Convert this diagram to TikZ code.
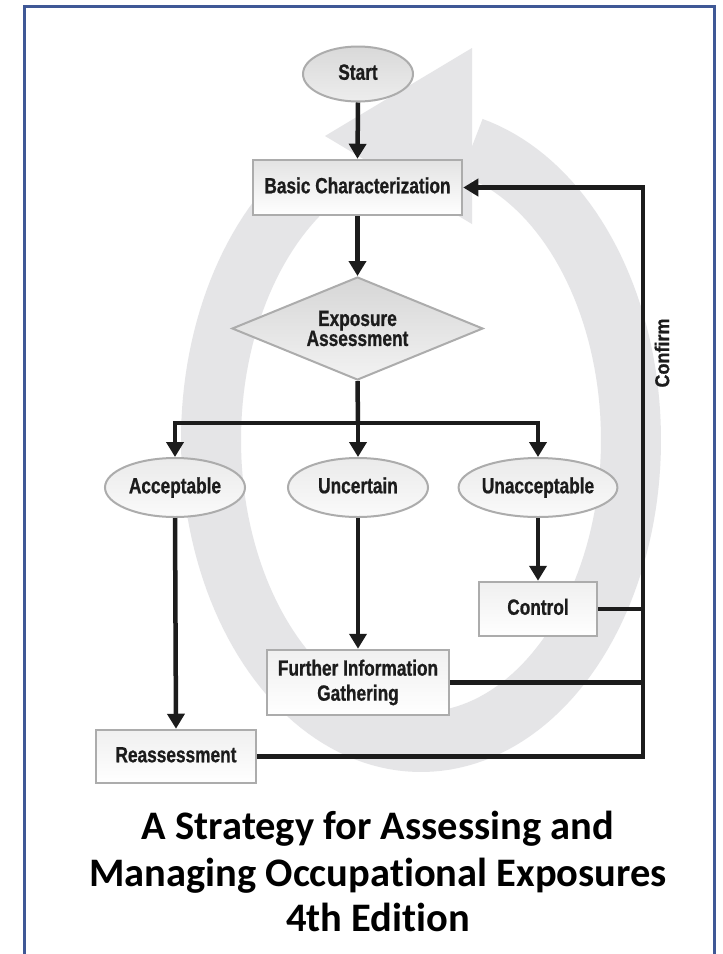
\documentclass[tikz,border=0pt]{standalone}
\usepackage{fontspec}
\usetikzlibrary{shapes.geometric,arrows.meta}
\newfontfamily\condfont{Liberation Sans Bold}[FakeStretch=0.785, FakeBold=0.8]
\newfontfamily\confont{Liberation Sans Bold}[FakeStretch=0.9, FakeBold=0.6]
\newfontfamily\titlefont{Carlito}[Ligatures=NoCommon]
\definecolor{ringgray}{RGB}{229,229,231}
\definecolor{frameblue}{RGB}{63,88,150}
\definecolor{edgegray}{RGB}{172,172,172}
\definecolor{ink}{RGB}{28,28,28}
\begin{document}
\begin{tikzpicture}[x=1pt,y=-1pt,
  lbl/.style={font={\condfont\fontsize{22}{20}\selectfont}, text=ink, align=center, inner sep=0pt},
  oneline/.style={text height=16pt, text depth=4.5pt},
  box/.style={lbl, rectangle, draw=edgegray, line width=2.5pt, top color=gray!12, bottom color=white},
  oval/.style={lbl, oneline, ellipse, draw=edgegray, line width=2pt, top color=gray!16, bottom color=gray!4},
  startoval/.style={lbl, oneline, ellipse, draw=edgegray, line width=2pt, top color=gray!30, bottom color=gray!14},
  dia/.style={lbl, diamond, aspect=2.44, draw=edgegray, line width=2pt, top color=gray!32, bottom color=gray!10},
  conn/.style={draw=ink, line width=4.5pt, line join=miter},
  arr/.style={conn, -{Triangle[width=17pt,length=15pt]}},
  titletext/.style={font={\titlefont\bfseries\fontsize{40.5}{45}\selectfont}, text=black, inner sep=0pt, anchor=base},
]
\useasboundingbox (0,0) rectangle (723,954);
\fill[white] (0,0) rectangle (723,954);

% background circular arrow
\draw[ringgray, line width=60pt, line cap=butt]
  plot[domain=-237:76, samples=160] ({421+210*cos(\x)}, {440-302*sin(\x)});
\fill[ringgray] (472,48) -- (325,136) -- (472,224) -- cycle;

% frame
\draw[frameblue, line width=3pt] (24,954) -- (24,6) -- (714.5,6) -- (714.5,954);

% nodes
\node[startoval, minimum width=110pt, minimum height=55pt] (start) at (358,74) {Start};
\node[box, oneline, top color=gray!22, minimum width=209pt, minimum height=55pt] (bc) at (357.5,187.5) {Basic Characterization};
\node[dia, minimum width=251pt, minimum height=103pt] (ea) at (357.5,328.5) {Exposure\\Assessment};
\node[oval, minimum width=140pt, minimum height=59pt] (acc) at (175,487.5) {Acceptable};
\node[oval, minimum width=140pt, minimum height=59pt] (unc) at (358,487.5) {Uncertain};
\node[oval, minimum width=140pt, minimum height=59pt] (unacc) at (538,487.5) {Unacceptable};
\node[box, oneline, minimum width=118pt, minimum height=54pt] (ctrl) at (538,609) {Control};
\node[box, minimum width=182pt, minimum height=65pt] (fig) at (358,682.5) {Further Information\\[5pt]Gathering};
\node[box, oneline, minimum width=160pt, minimum height=53pt] (reas) at (176,756.5) {Reassessment};

\node[lbl, font={\confont\fontsize{20}{20}\selectfont}, rotate=90] (conf) at (662,353) {Confirm};

% connectors
\coordinate (split) at (358,423);
\coordinate (cline) at (643,0);
\draw[arr] (start.south) -- (bc.north);
\draw[arr] (bc.south) -- (ea.north);
\draw[conn] (ea.south) -- (split);
\draw[arr] (split) -| (acc.north);
\draw[arr] (split) -| (unacc.north);
\draw[arr] (split) -- (unc.north);
\draw[arr] (acc.south) -- (reas.north);
\draw[arr] (unc.south) -- (fig.north);
\draw[arr] (unacc.south) -- (ctrl.north);
\draw[conn] (ctrl.east) -- (ctrl.east -| cline);
\draw[conn] (fig.east) -- (fig.east -| cline);
\draw[arr] (reas.east) -| (cline |- bc.east) -- (bc.east);

% title
\node[titletext] (t1) at (378,839) {A Strategy for Assessing and};
\node[titletext] (t2) at (378,886) {Managing Occupational Exposures};
\node[titletext] (t3) at (378,931) {4th Edition};
\end{tikzpicture}
\end{document}
